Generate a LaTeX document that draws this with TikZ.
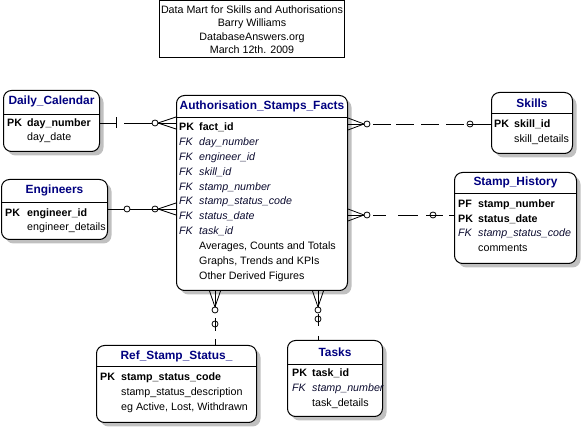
\documentclass[tikz,border=0pt]{standalone}
\usepackage{fontspec}
\setmainfont{Liberation Sans}
\usetikzlibrary{shadows,calc}
\definecolor{ttlblue}{RGB}{0,0,128}
\definecolor{fkcol}{RGB}{12,12,48}
\definecolor{shadowgray}{RGB}{192,192,192}
\newcommand\bodyfnt{\fontsize{10.7}{13}\selectfont}
\newcommand\boldfnt{\fontsize{10.7}{13}\selectfont\bfseries}
\newcommand\itfnt{\fontsize{10.7}{13}\selectfont\itshape}
\newcommand\ttlfnt{\fontsize{11.9}{14}\selectfont\bfseries}
\begin{document}
\begin{tikzpicture}[x=1pt,y=-1pt,
 entity/.style={draw, line width=1pt, rounded corners=8pt, fill=white, inner sep=0pt, anchor=north west,
   drop shadow={shadow xshift=4pt, shadow yshift=-4pt, fill=shadowgray, opacity=1}},
 etitle/.style={font=\ttlfnt, text=ttlblue, inner sep=0pt},
 rowtxt/.style={anchor=west, inner sep=0pt, text height=9pt, text depth=2pt},
 pkey/.style={rowtxt, font=\boldfnt},
 fkey/.style={rowtxt, font=\itfnt, text=fkcol},
 attr/.style={rowtxt, font=\bodyfnt},
 sepline/.style={line width=0.9pt},
 link/.style={line width=0.8pt},
 ocirc/.style={draw, circle, fill=white, minimum size=6pt, inner sep=0pt, line width=0.8pt},
 tcirc/.style={draw, circle, minimum size=6pt, inner sep=0pt, line width=0.8pt},
]
\useasboundingbox (0,0) rectangle (582,427);

% header
\node[draw, line width=1pt, inner sep=0pt, minimum width=185pt, minimum height=56.5pt, anchor=north west] (hdr) at (159,0.5) {};
\node[font=\fontsize{10.7}{13.6}\selectfont, align=center, inner sep=0pt] (hdrt) at ($(hdr.center)+(0,0.5)$)
  {Data Mart for Skills and Authorisations\\Barry Williams\\DatabaseAnswers.org\\March 12th. 2009};

% Daily_Calendar
\node[entity, minimum width=96pt, minimum height=61pt] (dc) at (3,90) {};
\node[etitle] (dct) at ($(dc.north)+(0,11)$) {Daily\_Calendar};
\draw[sepline] ($(dc.north west)+(0,24)$) -- ($(dc.north east)+(0,24)$);
\node[pkey] (dck1) at (7,123) {PK};
\node[pkey] (dcr1) at (27,123) {day\_number};
\node[attr] (dcr2) at (27,137) {day\_date};

% Engineers
\node[entity, minimum width=106pt, minimum height=60pt] (eng) at (1,179) {};
\node[etitle] (engt) at ($(eng.north)+(0,11)$) {Engineers};
\draw[sepline] ($(eng.north west)+(0,23)$) -- ($(eng.north east)+(0,23)$);
\node[pkey] (engk1) at (5,213) {PK};
\node[pkey] (engr1) at (27,213) {engineer\_id};
\node[attr] (engr2) at (27,227) {engineer\_details};

% Authorisation_Stamps_Facts
\node[entity, minimum width=171pt, minimum height=195pt] (asf) at (176,95) {};
\node[etitle] (asft) at ($(asf.north)+(0,11)$) {Authorisation\_Stamps\_Facts};
\draw[sepline] ($(asf.north west)+(0,22)$) -- ($(asf.north east)+(0,22)$);
\node[pkey] (asfk1) at (179,127) {PK};
\node[pkey] (asfr1) at (199,127) {fact\_id};
\foreach \n/\t [count=\i] in {day\_number, engineer\_id, skill\_id, stamp\_number, stamp\_status\_code, status\_date, task\_id}{
  \node[fkey] (asfk\i x) at (179,127+14.9*\i) {FK};
  \node[fkey] (asfr\i x) at (199,127+14.9*\i) {\n};
}
\node[attr] (asfa1) at (199,246.2) {Averages, Counts and Totals};
\node[attr] (asfa2) at (199,261.1) {Graphs, Trends and KPIs};
\node[attr] (asfa3) at (199,276) {Other Derived Figures};

% Skills
\node[entity, minimum width=81pt, minimum height=61pt] (sk) at (491,92) {};
\node[etitle] (skt) at ($(sk.north)+(0,11)$) {Skills};
\draw[sepline] ($(sk.north west)+(0,21)$) -- ($(sk.north east)+(0,21)$);
\node[pkey] (skk1) at (494,124) {PK};
\node[pkey] (skr1) at (514,124) {skill\_id};
\node[attr] (skr2) at (514,139) {skill\_details};

% Stamp_History
\node[entity, minimum width=122pt, minimum height=91pt] (sh) at (454,172) {};
\node[etitle] (sht) at ($(sh.north)+(0,10.5)$) {Stamp\_History};
\draw[sepline] ($(sh.north west)+(0,21)$) -- ($(sh.north east)+(0,21)$);
\node[pkey] (shk1) at (458,204) {PF};
\node[pkey] (shr1) at (478,204) {stamp\_number};
\node[pkey] (shk2) at (458,219) {PK};
\node[pkey] (shr2) at (478,219) {status\_date};
\node[fkey] (shk3) at (458,233) {FK};
\node[fkey] (shr3) at (478,233) {stamp\_status\_code};
\node[attr] (shr4) at (478,248) {comments};

% Ref_Stamp_Status_
\node[entity, minimum width=160pt, minimum height=77pt] (ref) at (96,345) {};
\node[etitle] (reft) at ($(ref.north)+(0,11)$) {Ref\_Stamp\_Status\_};
\draw[sepline] ($(ref.north west)+(0,21)$) -- ($(ref.north east)+(0,21)$);
\node[pkey] (refk1) at (100,377) {PK};
\node[pkey] (refr1) at (121,377) {stamp\_status\_code};
\node[attr] (refr2) at (121,392) {stamp\_status\_description};
\node[attr] (refr3) at (121,407) {eg Active, Lost, Withdrawn};

% Tasks
\node[entity, minimum width=95pt, minimum height=76pt] (tsk) at (287,340) {};
\node[etitle] (tskt) at ($(tsk.north)+(0,12)$) {Tasks};
\draw[sepline] ($(tsk.north west)+(0,24)$) -- ($(tsk.north east)+(0,24)$);
\node[pkey] (tskk1) at (292,373) {PK};
\node[pkey] (tskr1) at (312,373) {task\_id};
\node[fkey] (tskk2) at (292,388) {FK};
\node[fkey] (tskr2) at (312,388) {stamp\_number};
\node[attr] (tskr3) at (312,403) {task\_details};

% ---- connectors ----
% Daily_Calendar -> facts
\coordinate (l1a) at (dcr1 -| dc.east);
\coordinate (l1b) at (dcr1 -| asf.west);
\draw[link, dash pattern=on 16pt off 8pt on 200pt] (l1a) -- (l1b);
\draw[link] ($(l1a)+(16,-5.5)$) -- ($(l1a)+(16,5.5)$);
\draw[link] ($(l1b)+(-18,0)$) -- ($(l1b)+(0,-6)$) ($(l1b)+(-18,0)$) -- ($(l1b)+(0,6)$);
\node[ocirc] (l1o) at ($(l1b)+(-21,0)$) {};

% Engineers -> facts
\coordinate (l2a) at ($(eng.north east)+(0,30)$);
\coordinate (l2b) at (l2a -| asf.west);
\draw[link] (l2a) -- (l2b);
\draw[link] ($(l2b)+(-18,0)$) -- ($(l2b)+(0,-6)$) ($(l2b)+(-18,0)$) -- ($(l2b)+(0,6)$);
\node[ocirc] (l2o) at ($(l2a)+(19,0)$) {};
\node[tcirc] (l2t) at ($(l2b)+(-21,0)$) {};

% facts -> Skills
\coordinate (l3a) at (skr1 -| asf.east);
\coordinate (l3b) at (skr1 -| sk.west);
\draw[link, dash pattern=on 22pt off 3pt on 18pt off 5pt on 18pt off 7pt on 18pt off 7pt on 18pt off 4pt on 30pt] (l3a) -- (l3b);
\draw[link] ($(l3a)+(16,0)$) -- ($(l3a)+(0,-6)$) ($(l3a)+(16,0)$) -- ($(l3a)+(0,6)$);
\node[ocirc] (l3o) at ($(l3a)+(19,0)$) {};
\node[tcirc] (l3t) at ($(l3b)+(-21,0)$) {};

% facts -> Stamp_History
\coordinate (l4a) at ($(asf.north east)+(0,120)$);
\coordinate (l4b) at (l4a -| sh.west);
\draw[link, dash pattern=on 22pt off 3pt on 13pt off 12pt on 20pt off 8pt on 17pt off 6pt on 12pt] (l4a) -- (l4b);
\draw[link] ($(l4a)+(16,0)$) -- ($(l4a)+(0,-6)$) ($(l4a)+(16,0)$) -- ($(l4a)+(0,6)$);
\node[ocirc] (l4o) at ($(l4a)+(19,0)$) {};
\node[tcirc] (l4t) at ($(l4b)+(-21,0)$) {};

% facts -> Ref_Stamp_Status_
\coordinate (l5a) at ($(asf.south west)+(39,0)$);
\coordinate (l5b) at (l5a |- ref.north);
\draw[link, dash pattern=on 22pt off 5pt on 13pt off 8pt on 12pt] (l5a) -- (l5b);
\draw[link] ($(l5a)+(0,16)$) -- ($(l5a)+(-5.5,0)$) ($(l5a)+(0,16)$) -- ($(l5a)+(5.5,0)$);
\node[ocirc] (l5o) at ($(l5a)+(0,19)$) {};
\node[tcirc] (l5t) at ($(l5b)+(0,-21)$) {};

% facts -> Tasks
\coordinate (l6a) at ($(asf.south west)+(142,0)$);
\coordinate (l6b) at (l6a |- tsk.north);
\draw[link, dash pattern=on 22pt off 1pt on 12pt off 10pt on 10pt] (l6a) -- (l6b);
\draw[link] ($(l6a)+(0,16)$) -- ($(l6a)+(-5.5,0)$) ($(l6a)+(0,16)$) -- ($(l6a)+(5.5,0)$);
\node[ocirc] (l6o) at ($(l6a)+(0,19)$) {};
\node[tcirc] (l6t) at ($(l6b)+(0,-21)$) {};
\end{tikzpicture}
\end{document}
